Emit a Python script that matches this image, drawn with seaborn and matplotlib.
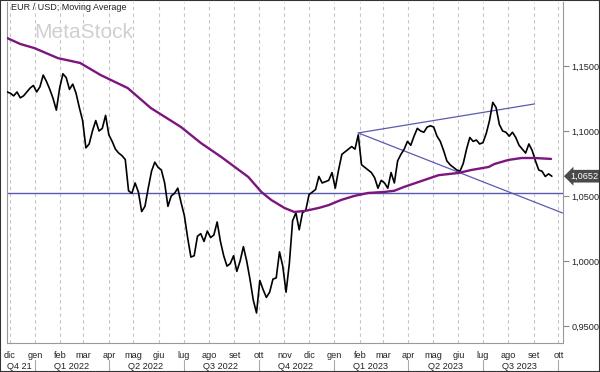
import matplotlib
matplotlib.use('Agg')
import matplotlib.pyplot as plt
import matplotlib.transforms as mtransforms
from matplotlib.patches import Rectangle
import pandas as pd
import seaborn as sns

# EUR/USD close, sampled every 4 days from 28 Nov 2021
price = [1.1300, 1.1290, 1.1270, 1.1300, 1.1255, 1.1270, 1.1300, 1.1330, 1.1350, 1.1300, 1.1340,
         1.1430, 1.1380, 1.1320, 1.1250, 1.1160, 1.1330, 1.1440, 1.1410, 1.1320, 1.1360,
         1.1290, 1.1180, 1.1080, 1.0870, 1.0900, 1.1000, 1.1080, 1.1000, 1.1020, 1.1120,
         1.0970, 1.0920, 1.0860, 1.0830, 1.0810, 1.0780, 1.0540, 1.0520, 1.0600, 1.0530,
         1.0380, 1.0420, 1.0560, 1.0690, 1.0760, 1.0720, 1.0700, 1.0600, 1.0420, 1.0500,
         1.0520, 1.0560, 1.0450, 1.0350, 1.0180, 1.0030, 1.0040, 1.0190, 1.0210, 1.0150,
         1.0230, 1.0180, 1.0200, 1.0300, 1.0150, 1.0040, 0.9960, 0.9980, 1.0040, 0.9920,
         1.0000, 1.0110, 1.0000, 0.9860, 0.9700, 0.9600, 0.9850, 0.9780, 0.9720, 0.9760,
         0.9860, 0.9870, 1.0070, 0.9960, 0.9760, 0.9980, 1.0310, 1.0370, 1.0240, 1.0370,
         1.0390, 1.0510, 1.0530, 1.0550, 1.0650, 1.0600, 1.0610, 1.0620, 1.0680, 1.0560,
         1.0700, 1.0820, 1.0840, 1.0860, 1.0880, 1.0860, 1.0970, 1.0740, 1.0720, 1.0700,
         1.0680, 1.0640, 1.0560, 1.0620, 1.0600, 1.0560, 1.0680, 1.0600, 1.0770, 1.0820,
         1.0860, 1.0920, 1.0890, 1.0960, 1.1020, 1.1000, 1.0990, 1.1030, 1.1040, 1.1030,
         1.0960, 1.0920, 1.0850, 1.0770, 1.0740, 1.0720, 1.0700, 1.0690, 1.0750, 1.0860,
         1.0950, 1.0920, 1.0930, 1.0900, 1.0910, 1.0980, 1.1080, 1.1220, 1.1180, 1.1050,
         1.1000, 1.0990, 1.0960, 1.0990, 1.0950, 1.0890, 1.0860, 1.0830, 1.0900, 1.0850,
         1.0770, 1.0700, 1.0690, 1.0650, 1.0670, 1.0652]
price_dates = pd.date_range('2021-11-28', periods=len(price), freq='4D')

# moving average
ma_dates = ['2021-11-28', '2021-12-14', '2021-12-31', '2022-01-29', '2022-02-25', '2022-03-22',
            '2022-04-24', '2022-05-22', '2022-06-28', '2022-07-22', '2022-08-16', '2022-09-18',
            '2022-10-04', '2022-10-16', '2022-11-01', '2022-11-13', '2022-11-26', '2022-12-13',
            '2022-12-25', '2023-01-09', '2023-01-25', '2023-02-11', '2023-03-03', '2023-03-15',
            '2023-03-27', '2023-04-17', '2023-05-08', '2023-06-01', '2023-06-17', '2023-07-08',
            '2023-07-15', '2023-08-01', '2023-08-17', '2023-09-02', '2023-09-22']
ma_values = [1.1715, 1.1669, 1.1638, 1.1560, 1.1523, 1.1430, 1.1330, 1.1177, 1.1030, 1.0908,
             1.0800, 1.0646, 1.0530, 1.0469, 1.0408, 1.0377, 1.0385, 1.0408, 1.0430, 1.0469,
             1.0500, 1.0523, 1.0531, 1.0540, 1.0570, 1.0615, 1.0660, 1.0677, 1.0700, 1.0723,
             1.0746, 1.0777, 1.0792, 1.0792, 1.0785]

# drawn lines
support = 1.0525
upper_dates = ['2023-01-30', '2023-09-02']
upper_vals = [1.0985, 1.1208]
lower_dates = ['2023-01-30', '2023-10-06']
lower_vals = [1.0985, 1.0369]

last_label = '1,0652'
month_names = ['gen', 'feb', 'mar', 'apr', 'mag', 'giu', 'lug', 'ago', 'set', 'ott', 'nov', 'dic']
quarter_labels = ['Q4 21', 'Q1 2022', 'Q2 2022', 'Q3 2022', 'Q4 2022', 'Q1 2023', 'Q2 2023', 'Q3 2023']
quarter_starts = ['2022-01-01', '2022-04-01', '2022-07-01', '2022-10-01', '2023-01-01',
                  '2023-04-01', '2023-07-01', '2023-10-01']
quarter_mids = ['2021-12-13', '2022-02-14', '2022-05-16', '2022-08-15', '2022-11-15',
                '2023-02-14', '2023-05-16', '2023-08-15']
yticks = [0.95, 1.00, 1.05, 1.10, 1.15]
ytick_labels = ['0,9500', '1,0000', '1,0500', '1,1000', '1,1500']

sns.set_style('white')
plt.rcParams['font.family'] = ['Liberation Sans', 'DejaVu Sans']

fig = plt.figure(figsize=(6, 3.72), dpi=100)
ax = fig.add_axes([7/600, 29/372, 556/600, 341/372])

df = pd.DataFrame({'date': price_dates, 'price': price})
sns.lineplot(data=df, x='date', y='price', color='black', lw=1.2, ax=ax, zorder=3)
ma = pd.DataFrame({'date': pd.to_datetime(ma_dates), 'ma': ma_values})
sns.lineplot(data=ma, x='date', y='ma', color='#7d1580', lw=1.7, ax=ax, zorder=4)

blue = '#5a5ab4'
ax.axhline(support, color=blue, lw=1, zorder=2)
ax.plot(pd.to_datetime(upper_dates), upper_vals, color=blue, lw=0.9, zorder=2)
ax.plot(pd.to_datetime(lower_dates), lower_vals, color=blue, lw=0.9, zorder=2)

ax.set_xlim(pd.Timestamp('2021-11-27 20:00'), pd.Timestamp('2023-10-06 14:00'))
ax.set_ylim(0.9369, 1.1992)
ax.set_xlabel('')
ax.set_ylabel('')

months = pd.date_range('2021-12-01', '2023-10-01', freq='MS')
ax.set_xticks(months)
ax.set_xticklabels([month_names[m.month - 1] for m in months])
ax.xaxis.grid(True, ls=(0, (3, 3)), color='#c4c4c4', lw=0.8)
ax.yaxis.grid(False)
ax.tick_params(axis='x', length=4, width=0.8, color='#888888', labelsize=6.6, pad=2,
               labelcolor='#222222')

ax.yaxis.tick_right()
ax.set_yticks(yticks)
ax.set_yticklabels(ytick_labels)
ax.tick_params(axis='y', length=4, width=0.8, color='#888888', labelsize=6.6, pad=2,
               labelcolor='#222222')

for s in ['left', 'right', 'bottom']:
    ax.spines[s].set_color('#999999')
    ax.spines[s].set_linewidth(0.8)
ax.spines['top'].set_visible(False)

trans = mtransforms.blended_transform_factory(ax.transData, ax.transAxes)
for q in quarter_starts:
    ax.plot([pd.Timestamp(q)] * 2, [-0.05, -0.09], transform=trans, clip_on=False,
            color='#aaaaaa', lw=0.8)
for q, lab in zip(quarter_mids, quarter_labels):
    ax.text(pd.Timestamp(q), -0.068, lab, transform=trans, ha='center', va='center',
            fontsize=6.6, color='#222222')

ytrans = mtransforms.blended_transform_factory(ax.transAxes, ax.transData)
ax.text(1.014, price[-1], last_label, transform=ytrans, ha='left', va='center', fontsize=6.6,
        color='white', bbox=dict(boxstyle='larrow,pad=0.2', fc='#4a4a4a', ec='none'))

fig.text(11/600, 1 - 7/372, 'EUR / USD; Moving Average', fontsize=6.5, color='#222222', va='center')
fig.text(34/600, 1 - 33/372, 'MetaStock', fontsize=15, color='#d0d0d0', va='center')

fig.patches.append(Rectangle((0, 0), 1, 1, transform=fig.transFigure, fill=False,
                             ec='#333333', lw=1.5))

fig.savefig('out.png', dpi=100)
